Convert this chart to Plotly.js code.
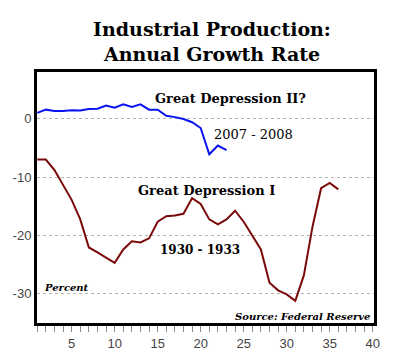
<!DOCTYPE html>
<html>
<head>
<meta charset="utf-8">
<script src="https://cdn.plot.ly/plotly-3.0.1.min.js"></script>
<style>html,body{margin:0;padding:0;background:#fff;}#chart{width:400px;height:356px;}</style>
</head>
<body>
<div id="chart"></div>
<script>
// Month index since start of each episode
const months2007 = [1,2,3,4,5,6,7,8,9,10,11,12,13,14,15,16,17,18,19,20,21,22,23];
const growth2007 = [1.0,1.55,1.3,1.3,1.43,1.4,1.66,1.7,2.25,1.9,2.45,2.0,2.45,1.55,1.55,0.5,0.27,-0.06,-0.6,-1.6,-6.1,-4.6,-5.4];

const months1930 = [1,2,3,4,5,6,7,8,9,10,11,12,13,14,15,16,17,18,19,20,21,22,23,24,25,26,27,28,29,30,31,32,33,34,35,36];
const growth1930 = [-7.0,-7.0,-8.8,-11.3,-13.9,-17.25,-22.06,-22.9,-23.8,-24.7,-22.4,-21.0,-21.2,-20.5,-17.65,-16.7,-16.6,-16.3,-13.6,-14.6,-17.25,-18.1,-17.25,-15.76,-17.65,-19.94,-22.4,-28.1,-29.4,-30.1,-31.2,-26.8,-18.5,-11.9,-11.0,-12.1];

const xTicks = [5,10,15,20,25,30,35,40];
const yTicks = [-30,-20,-10,0];

const serif = '"DejaVu Serif", serif';

const traces = [
  {x: months2007, y: growth2007, type: 'scatter', mode: 'lines',
   line: {color: '#0a14f0', width: 2}, hoverinfo: 'skip'},
  {x: months1930, y: growth1930, type: 'scatter', mode: 'lines',
   line: {color: '#7a0a0a', width: 2}, hoverinfo: 'skip'}
];

const layout = {
  width: 400, height: 356,
  paper_bgcolor: '#fff', plot_bgcolor: '#fff',
  showlegend: false,
  margin: {l: 37, r: 26, t: 72, b: 33, pad: 0},
  title: {
    text: '<b>Industrial Production:<br>Annual Growth Rate</b>',
    font: {family: serif, size: 19, color: '#000'},
    xref: 'container', x: 0.53, xanchor: 'center',
    yref: 'container', y: 0.898, yanchor: 'top'
  },
  xaxis: {
    range: [0.97, 40.15],
    tickvals: xTicks, ticktext: xTicks.map(String),
    ticks: 'outside', ticklen: 6, tickcolor: '#888', tickwidth: 1,
    minor: {dtick: 1, tick0: 0, ticks: 'outside', ticklen: 6, tickcolor: '#888', tickwidth: 1},
    showgrid: false, zeroline: false,
    showline: true, linecolor: '#000', linewidth: 3, mirror: true,
    tickfont: {family: '"Liberation Sans", Arial, sans-serif', size: 13, color: '#444'}
  },
  yaxis: {
    range: [-35, 8],
    tickvals: yTicks, ticktext: yTicks.map(String),
    ticks: '', showgrid: true, gridcolor: '#b4b4b4', gridwidth: 1, griddash: '3px,3px',
    zeroline: false,
    showline: true, linecolor: '#000', linewidth: 3, mirror: true,
    tickfont: {family: '"Liberation Sans", Arial, sans-serif', size: 13, color: '#444'}
  },
  annotations: [
    {text: '<b>Great Depression II?</b>', x: 14.45, y: 3.44, xref: 'x', yref: 'y',
     xanchor: 'left', yanchor: 'middle', showarrow: false, font: {family: serif, size: 13, color: '#000'}},
    {text: '2007 - 2008', x: 21.3, y: -2.75, xref: 'x', yref: 'y',
     xanchor: 'left', yanchor: 'middle', showarrow: false, font: {family: serif, size: 13, color: '#000'}},
    {text: '<b>Great Depression I</b>', x: 12.48, y: -12.3, xref: 'x', yref: 'y',
     xanchor: 'left', yanchor: 'middle', showarrow: false, font: {family: serif, size: 13, color: '#000'}},
    {text: '<b>1930 - 1933</b>', x: 15.03, y: -22.5, xref: 'x', yref: 'y',
     xanchor: 'left', yanchor: 'middle', showarrow: false, font: {family: serif, size: 12, color: '#000'}},
    {text: '<b><i>Percent</i></b>', x: 1.55, y: -28.9, xref: 'x', yref: 'y',
     xanchor: 'left', yanchor: 'middle', showarrow: false, font: {family: serif, size: 10, color: '#000'}},
    {text: '<b><i>Source: Federal Reserve</i></b>', x: 39.9, y: -33.85, xref: 'x', yref: 'y',
     xanchor: 'right', yanchor: 'middle', showarrow: false, font: {family: serif, size: 10, color: '#000'}}
  ]
};

Plotly.newPlot('chart', traces, layout, {staticPlot: true, displayModeBar: false});
</script>
</body>
</html>
